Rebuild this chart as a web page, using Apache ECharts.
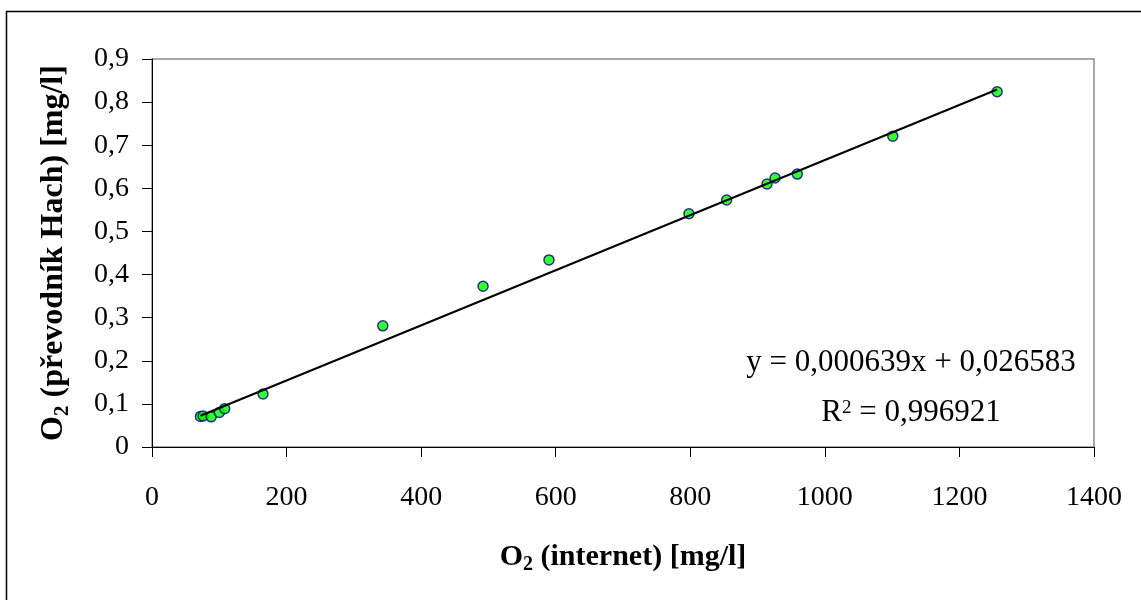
<!DOCTYPE html>
<html>
<head>
<meta charset="utf-8">
<script src="https://cdn.jsdelivr.net/npm/echarts@6/dist/echarts.min.js"></script>
<style>
  html, body { margin: 0; padding: 0; background: #fff; }
  #chart { width: 1141px; height: 600px; }
</style>
</head>
<body>
<div id="chart"></div>
<script>
// Measured O2 concentrations: internet source (x) vs. Hach converter (y)
const o2Internet = [72, 76, 88, 100, 108, 165, 343, 492, 590, 798, 854, 914, 926, 959, 1101, 1256];
const o2Hach = [0.071, 0.072, 0.070, 0.080, 0.089, 0.123, 0.281, 0.373, 0.434, 0.541, 0.573, 0.610, 0.624, 0.633, 0.721, 0.824];

// Linear regression reported on the chart
const slope = 0.000639;
const intercept = 0.026583;
const rSquared = 0.996921;

// Axis ticks
const xTicks = [0, 200, 400, 600, 800, 1000, 1200, 1400];
const yTicks = [0, 0.1, 0.2, 0.3, 0.4, 0.5, 0.6, 0.7, 0.8, 0.9];

const FONT = '"Liberation Serif", "Times New Roman", serif';
const comma = (v, d) => v.toFixed(d).replace('.', ',');

const points = o2Internet.map((x, i) => [x, o2Hach[i]]);
const xMin = Math.min(...o2Internet);
const xMax = Math.max(...o2Internet);
const trend = [xMin, xMax].map(x => [x, slope * x + intercept]);

const titleRich = size => ({
  b: { fontFamily: FONT, fontWeight: 'bold', fontSize: size, lineHeight: size + 6, color: '#000' },
  s: { fontFamily: FONT, fontWeight: 'bold', fontSize: Math.round(size * 0.66), lineHeight: Math.round(size * 0.66), verticalAlign: 'bottom', color: '#000' }
});

const chart = echarts.init(document.getElementById('chart'), null, { renderer: 'canvas' });

chart.setOption({
  animation: false,
  backgroundColor: '#ffffff',
  grid: {
    left: 152, right: 47, top: 59, bottom: 153,
    show: true, borderColor: '#8c8c8c', borderWidth: 1.5, backgroundColor: 'transparent'
  },
  xAxis: {
    type: 'value',
    min: xTicks[0], max: xTicks[xTicks.length - 1], interval: 200,
    splitLine: { show: false },
    axisLine: { show: true, onZero: false, lineStyle: { color: '#000', width: 1 } },
    axisTick: { show: true, inside: false, length: 10, lineStyle: { color: '#000' } },
    axisLabel: { margin: 37, fontFamily: FONT, fontSize: 28, color: '#000', formatter: v => String(v) },
    name: '{b|O}{s|2}{b| (internet) [mg/l]}',
    nameLocation: 'middle',
    nameGap: 92,
    nameTextStyle: {
      fontFamily: FONT, fontWeight: 'bold', fontSize: 30, color: '#000',
      rich: titleRich(30)
    }
  },
  yAxis: {
    type: 'value',
    min: yTicks[0], max: yTicks[yTicks.length - 1], interval: 0.1,
    splitLine: { show: false },
    axisLine: { show: true, onZero: false, lineStyle: { color: '#000', width: 1 } },
    axisTick: { show: true, inside: false, length: 10, lineStyle: { color: '#000' } },
    axisLabel: {
      margin: 23, fontFamily: FONT, fontSize: 28, color: '#000',
      padding: [5, 0, 0, 0],
      formatter: v => (v === 0 ? '0' : comma(v, 1))
    },
    name: '{b|O}{s|2}{b| (převodník Hach) [mg/l]}',
    nameLocation: 'middle',
    nameGap: 79,
    nameRotate: 90,
    nameTextStyle: {
      fontFamily: FONT, fontWeight: 'bold', fontSize: 32, color: '#000',
      rich: titleRich(32)
    }
  },
  series: [
    {
      type: 'scatter',
      data: points,
      symbol: 'circle',
      symbolSize: 10,
      itemStyle: { color: '#00ff00', borderColor: '#000080', borderWidth: 1.5 },
      z: 2
    },
    {
      type: 'line',
      data: trend,
      symbol: 'none',
      lineStyle: { color: '#000', width: 2 },
      z: 3
    }
  ],
  graphic: [
    // outer chart frame (top and left edges)
    { type: 'line', shape: { x1: 6, y1: 11.5, x2: 1141, y2: 11.5 }, style: { stroke: '#000', lineWidth: 1.5 } },
    { type: 'line', shape: { x1: 6.5, y1: 11, x2: 6.5, y2: 600 }, style: { stroke: '#000', lineWidth: 1.5 } },
    {
      type: 'text',
      x: 911, y: 338,
      z: 10,
      style: {
        text: '{n|y = ' + comma(slope, 6) + 'x + ' + comma(intercept, 6) + '}\n{n|R}{sup|2}{n| = ' + comma(rSquared, 6) + '}',
        align: 'center',
        fill: '#000',
        font: '31px ' + FONT,
        rich: {
          n: { fontFamily: FONT, fontSize: 31, lineHeight: 50, color: '#000' },
          sup: { fontFamily: FONT, fontSize: 19, lineHeight: 19, padding: [0, 0, 10, 0], color: '#000' }
        }
      }
    }
  ]
});
</script>
</body>
</html>
